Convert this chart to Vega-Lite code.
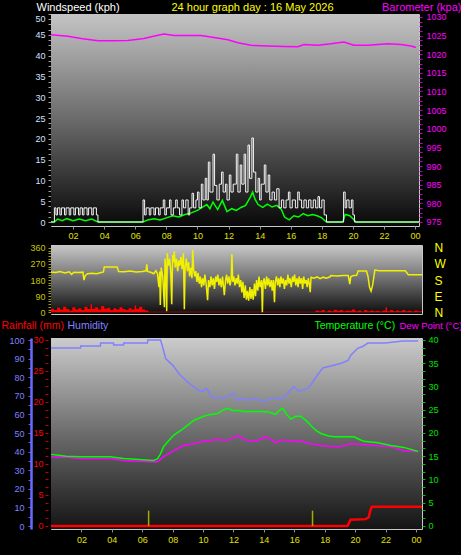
{
  "$schema": "https://vega.github.io/schema/vega-lite/v6.json",
  "background": "black",
  "padding": {"left": 0, "top": 0, "right": 0, "bottom": 10},
  "spacing": 0,
  "config": {
    "font": "Liberation Sans",
    "view": {"stroke": "#c8c8c8", "strokeWidth": 1},
    "axis": {"labelFontSize": 9, "titleFontWeight": "normal", "titleFontSize": 11, "tickSize": 3, "domain": false, "gridDash": [1, 2], "gridColor": "#e8e8e8", "gridOpacity": 0.45}
  },
  "datasets": {
    "gust": [{"h":0,"v":0},{"h":0.75,"v":0},{"h":0.8,"v":3.4},{"h":0.9,"v":1.7},{"h":1.0,"v":3.4},{"h":1.15,"v":1.7},{"h":1.25,"v":3.4},{"h":1.45,"v":1.7},{"h":1.55,"v":3.4},{"h":1.75,"v":1.7},{"h":1.85,"v":3.4},{"h":2.05,"v":1.7},{"h":2.15,"v":3.4},{"h":2.35,"v":1.7},{"h":2.45,"v":3.4},{"h":2.6,"v":1.7},{"h":2.7,"v":3.4},{"h":2.9,"v":1.7},{"h":3.0,"v":3.4},{"h":3.2,"v":1.7},{"h":3.3,"v":3.4},{"h":3.5,"v":1.7},{"h":3.6,"v":0},{"h":6.45,"v":0},{"h":6.5,"v":5.3},{"h":6.6,"v":1.7},{"h":6.7,"v":3.4},{"h":6.9,"v":1.7},{"h":7.0,"v":3.4},{"h":7.2,"v":1.7},{"h":7.3,"v":3.4},{"h":7.5,"v":1.7},{"h":7.6,"v":3.4},{"h":7.8,"v":5.3},{"h":7.9,"v":1.7},{"h":8.0,"v":3.4},{"h":8.2,"v":5.3},{"h":8.3,"v":1.7},{"h":8.45,"v":3.4},{"h":8.6,"v":5.3},{"h":8.7,"v":3.4},{"h":8.85,"v":1.7},{"h":9.0,"v":5.3},{"h":9.1,"v":3.4},{"h":9.25,"v":5.3},{"h":9.4,"v":1.7},{"h":9.5,"v":3.4},{"h":9.65,"v":6.9},{"h":9.75,"v":3.4},{"h":9.9,"v":5.3},{"h":10.0,"v":7.2},{"h":10.1,"v":3.4},{"h":10.25,"v":9.1},{"h":10.35,"v":5.3},{"h":10.5,"v":10.5},{"h":10.6,"v":5.3},{"h":10.7,"v":14.4},{"h":10.8,"v":7.2},{"h":11.0,"v":16.3},{"h":11.1,"v":8.8},{"h":11.25,"v":5.3},{"h":11.4,"v":9.1},{"h":11.55,"v":12.0},{"h":11.65,"v":7.2},{"h":11.8,"v":9.1},{"h":11.9,"v":5.3},{"h":12.05,"v":11.3},{"h":12.15,"v":7.2},{"h":12.3,"v":9.1},{"h":12.5,"v":16.3},{"h":12.6,"v":7.2},{"h":12.75,"v":13.7},{"h":12.85,"v":9.1},{"h":13.0,"v":16.3},{"h":13.1,"v":7.2},{"h":13.25,"v":18.5},{"h":13.35,"v":10.5},{"h":13.5,"v":20.2},{"h":13.6,"v":12.0},{"h":13.75,"v":7.2},{"h":13.9,"v":10.5},{"h":14.0,"v":5.3},{"h":14.1,"v":9.1},{"h":14.3,"v":13.7},{"h":14.4,"v":7.2},{"h":14.55,"v":11.3},{"h":14.65,"v":5.3},{"h":14.8,"v":7.2},{"h":14.95,"v":5.3},{"h":15.1,"v":8.0},{"h":15.25,"v":3.4},{"h":15.4,"v":5.3},{"h":15.55,"v":3.4},{"h":15.7,"v":5.3},{"h":15.85,"v":7.2},{"h":15.95,"v":3.4},{"h":16.1,"v":5.3},{"h":16.3,"v":3.4},{"h":16.45,"v":7.2},{"h":16.55,"v":5.3},{"h":16.7,"v":3.4},{"h":16.85,"v":5.3},{"h":17.0,"v":3.4},{"h":17.15,"v":5.3},{"h":17.3,"v":3.4},{"h":17.45,"v":5.3},{"h":17.6,"v":3.4},{"h":17.75,"v":6.1},{"h":17.85,"v":3.4},{"h":18.0,"v":5.3},{"h":18.15,"v":1.7},{"h":18.3,"v":0},{"h":19.35,"v":0},{"h":19.4,"v":7.2},{"h":19.5,"v":3.4},{"h":19.6,"v":5.3},{"h":19.75,"v":3.4},{"h":19.9,"v":5.3},{"h":20.0,"v":1.7},{"h":20.1,"v":0},{"h":24.3,"v":0}],
    "avg": [{"h":0,"v":0},{"h":0.8,"v":0},{"h":1.0,"v":0.7},{"h":1.3,"v":0.3},{"h":1.6,"v":0.8},{"h":2.0,"v":0.3},{"h":2.4,"v":0.7},{"h":2.8,"v":0.3},{"h":3.2,"v":0.7},{"h":3.6,"v":0},{"h":6.5,"v":0},{"h":6.8,"v":0.5},{"h":7.2,"v":0.8},{"h":7.6,"v":0.5},{"h":8.0,"v":1.0},{"h":8.4,"v":1.5},{"h":8.8,"v":1.2},{"h":9.2,"v":1.8},{"h":9.6,"v":2.2},{"h":10.0,"v":2.8},{"h":10.3,"v":3.5},{"h":10.6,"v":4.2},{"h":10.8,"v":3.2},{"h":11.0,"v":4.8},{"h":11.3,"v":3.0},{"h":11.6,"v":5.2},{"h":11.9,"v":2.5},{"h":12.2,"v":3.2},{"h":12.5,"v":2.8},{"h":12.8,"v":3.5},{"h":13.1,"v":4.0},{"h":13.4,"v":6.0},{"h":13.55,"v":7.2},{"h":13.7,"v":5.5},{"h":13.9,"v":4.2},{"h":14.2,"v":3.5},{"h":14.5,"v":4.3},{"h":14.8,"v":3.6},{"h":15.1,"v":4.0},{"h":15.4,"v":3.0},{"h":15.6,"v":1.2},{"h":15.9,"v":0.5},{"h":16.2,"v":1.5},{"h":16.5,"v":1.2},{"h":16.8,"v":2.0},{"h":17.1,"v":1.5},{"h":17.4,"v":1.8},{"h":17.7,"v":1.5},{"h":18.0,"v":1.0},{"h":18.3,"v":0},{"h":19.35,"v":0},{"h":19.5,"v":1.8},{"h":19.8,"v":1.5},{"h":20.0,"v":0.8},{"h":20.2,"v":0},{"h":24.3,"v":0}],
    "baro": [{"h":0.19,"p":1025.4},{"h":1.67,"p":1024.8},{"h":2.51,"p":1024.2},{"h":3.6,"p":1023.6},{"h":4.44,"p":1023.6},{"h":5.53,"p":1023.7},{"h":6.56,"p":1024.2},{"h":7.46,"p":1025.1},{"h":7.85,"p":1025.4},{"h":8.49,"p":1025.0},{"h":10.23,"p":1025.0},{"h":11.06,"p":1024.5},{"h":11.96,"p":1023.9},{"h":12.6,"p":1023.1},{"h":13.44,"p":1022.4},{"h":14.53,"p":1022.2},{"h":15.56,"p":1022.1},{"h":16.46,"p":1022.0},{"h":16.85,"p":1022.6},{"h":17.75,"p":1022.4},{"h":18.59,"p":1022.8},{"h":19.42,"p":1023.3},{"h":20.06,"p":1022.4},{"h":20.96,"p":1022.4},{"h":22.25,"p":1022.8},{"h":23.09,"p":1022.6},{"h":23.73,"p":1022.2},{"h":24.05,"p":1021.8}],
    "dir": [{"h":0,"d":225},{"h":0.3,"d":222},{"h":0.6,"d":228},{"h":0.9,"d":220},{"h":1.2,"d":226},{"h":1.35,"d":212},{"h":1.5,"d":224},{"h":1.8,"d":222},{"h":2.1,"d":224},{"h":2.17,"d":180},{"h":2.25,"d":205},{"h":2.4,"d":215},{"h":2.7,"d":218},{"h":3.0,"d":215},{"h":3.3,"d":222},{"h":3.45,"d":225},{"h":3.5,"d":253},{"h":4.35,"d":253},{"h":4.45,"d":228},{"h":4.8,"d":226},{"h":5.2,"d":230},{"h":5.6,"d":225},{"h":6.0,"d":228},{"h":6.25,"d":232},{"h":6.3,"d":268},{"h":6.35,"d":228},{"h":6.6,"d":222},{"h":6.75,"d":215},{"h":6.9,"d":232},{"h":7.0,"d":215},{"h":7.1,"d":140},{"h":7.15,"d":228},{"h":7.19,"d":40},{"h":7.25,"d":250},{"h":7.35,"d":200},{"h":7.46,"d":28},{"h":7.5,"d":300},{"h":7.55,"d":250},{"h":7.61,"d":6},{"h":7.65,"d":330},{"h":7.72,"d":260},{"h":7.8,"d":300},{"h":7.87,"d":240},{"h":7.94,"d":45},{"h":8.0,"d":320},{"h":8.05,"d":280},{"h":8.11,"d":340},{"h":8.17,"d":250},{"h":8.25,"d":300},{"h":8.33,"d":230},{"h":8.4,"d":290},{"h":8.47,"d":260},{"h":8.55,"d":310},{"h":8.62,"d":240},{"h":8.71,"d":330},{"h":8.77,"d":17},{"h":8.82,"d":250},{"h":8.9,"d":300},{"h":8.97,"d":230},{"h":9.05,"d":280},{"h":9.12,"d":200},{"h":9.2,"d":250},{"h":9.27,"d":190},{"h":9.32,"d":349},{"h":9.38,"d":240},{"h":9.45,"d":200},{"h":9.52,"d":230},{"h":9.6,"d":170},{"h":9.67,"d":220},{"h":9.75,"d":160},{"h":9.82,"d":200},{"h":9.9,"d":140},{"h":9.97,"d":190},{"h":10.05,"d":150},{"h":10.12,"d":210},{"h":10.2,"d":160},{"h":10.3,"d":67},{"h":10.36,"d":180},{"h":10.45,"d":140},{"h":10.52,"d":200},{"h":10.6,"d":150},{"h":10.68,"d":190},{"h":10.75,"d":130},{"h":10.83,"d":200},{"h":10.9,"d":170},{"h":10.97,"d":210},{"h":11.05,"d":150},{"h":11.12,"d":190},{"h":11.2,"d":140},{"h":11.28,"d":200},{"h":11.4,"d":95},{"h":11.48,"d":180},{"h":11.55,"d":210},{"h":11.62,"d":160},{"h":11.7,"d":200},{"h":11.78,"d":150},{"h":11.85,"d":190},{"h":11.9,"d":326},{"h":11.95,"d":170},{"h":12.02,"d":200},{"h":12.1,"d":150},{"h":12.18,"d":190},{"h":12.25,"d":160},{"h":12.32,"d":210},{"h":12.4,"d":140},{"h":12.48,"d":180},{"h":12.55,"d":110},{"h":12.62,"d":170},{"h":12.7,"d":80},{"h":12.78,"d":150},{"h":12.85,"d":70},{"h":12.92,"d":120},{"h":13.0,"d":65},{"h":13.08,"d":140},{"h":13.15,"d":75},{"h":13.22,"d":130},{"h":13.3,"d":70},{"h":13.38,"d":160},{"h":13.45,"d":90},{"h":13.52,"d":180},{"h":13.6,"d":120},{"h":13.68,"d":200},{"h":13.75,"d":140},{"h":13.85,"d":180},{"h":13.9,"d":0},{"h":13.95,"d":160},{"h":14.02,"d":190},{"h":14.1,"d":130},{"h":14.18,"d":200},{"h":14.25,"d":150},{"h":14.32,"d":190},{"h":14.4,"d":140},{"h":14.48,"d":180},{"h":14.55,"d":120},{"h":14.62,"d":180},{"h":14.7,"d":56},{"h":14.75,"d":170},{"h":14.83,"d":200},{"h":14.9,"d":150},{"h":14.98,"d":190},{"h":15.05,"d":140},{"h":15.12,"d":200},{"h":15.2,"d":160},{"h":15.28,"d":190},{"h":15.35,"d":130},{"h":15.42,"d":180},{"h":15.5,"d":150},{"h":15.58,"d":210},{"h":15.65,"d":160},{"h":15.72,"d":190},{"h":15.8,"d":140},{"h":15.88,"d":200},{"h":15.95,"d":170},{"h":16.02,"d":210},{"h":16.1,"d":150},{"h":16.18,"d":190},{"h":16.25,"d":140},{"h":16.32,"d":200},{"h":16.4,"d":160},{"h":16.48,"d":190},{"h":16.55,"d":130},{"h":16.62,"d":200},{"h":16.7,"d":160},{"h":16.78,"d":180},{"h":16.85,"d":140},{"h":16.92,"d":190},{"h":17.0,"d":150},{"h":17.05,"d":112},{"h":17.1,"d":195},{"h":17.3,"d":190},{"h":17.5,"d":198},{"h":17.7,"d":188},{"h":17.9,"d":196},{"h":18.1,"d":190},{"h":18.35,"d":198},{"h":18.4,"d":205},{"h":18.8,"d":203},{"h":19.2,"d":205},{"h":19.55,"d":205},{"h":19.65,"d":157},{"h":19.72,"d":200},{"h":19.9,"d":205},{"h":20.1,"d":206},{"h":20.2,"d":230},{"h":20.75,"d":230},{"h":20.85,"d":200},{"h":20.95,"d":140},{"h":21.05,"d":118},{"h":21.15,"d":150},{"h":21.3,"d":236},{"h":21.6,"d":232},{"h":22.5,"d":232},{"h":23.3,"d":232},{"h":23.5,"d":210},{"h":24.4,"d":210}],
    "dlow": [{"h":0,"v":20},{"h":0.2,"v":12},{"h":0.4,"v":25},{"h":0.6,"v":15},{"h":0.8,"v":30},{"h":1.0,"v":18},{"h":1.2,"v":10},{"h":1.4,"v":28},{"h":1.6,"v":15},{"h":1.8,"v":22},{"h":2.0,"v":12},{"h":2.2,"v":30},{"h":2.4,"v":18},{"h":2.6,"v":45},{"h":2.7,"v":20},{"h":2.9,"v":28},{"h":3.1,"v":15},{"h":3.3,"v":35},{"h":3.5,"v":20},{"h":3.7,"v":25},{"h":3.9,"v":12},{"h":4.1,"v":22},{"h":4.3,"v":15},{"h":4.5,"v":28},{"h":4.7,"v":18},{"h":4.9,"v":12},{"h":5.1,"v":22},{"h":5.3,"v":15},{"h":5.5,"v":38},{"h":5.6,"v":20},{"h":5.8,"v":30},{"h":6.0,"v":15},{"h":6.2,"v":10},{"h":6.4,"v":2},{"h":17.2,"v":2},{"h":17.4,"v":10},{"h":17.6,"v":5},{"h":17.8,"v":12},{"h":18.0,"v":4},{"h":18.2,"v":10},{"h":18.4,"v":6},{"h":18.6,"v":14},{"h":18.8,"v":8},{"h":19.0,"v":12},{"h":19.2,"v":5},{"h":19.4,"v":10},{"h":19.6,"v":8},{"h":19.8,"v":15},{"h":20.0,"v":6},{"h":20.2,"v":10},{"h":20.4,"v":4},{"h":20.6,"v":12},{"h":20.8,"v":6},{"h":21.0,"v":10},{"h":21.2,"v":5},{"h":21.4,"v":8},{"h":21.6,"v":4},{"h":21.8,"v":10},{"h":22.0,"v":28},{"h":22.1,"v":6},{"h":22.3,"v":12},{"h":22.5,"v":5},{"h":22.7,"v":10},{"h":22.9,"v":6},{"h":23.1,"v":12},{"h":23.3,"v":5},{"h":23.5,"v":8},{"h":23.7,"v":4},{"h":23.9,"v":10},{"h":24.1,"v":5},{"h":24.4,"v":5}],
    "rain": [{"h":0,"v":0},{"h":19.5,"v":0},{"h":19.6,"v":0.5},{"h":19.7,"v":1.0},{"h":20.7,"v":1.1},{"h":20.9,"v":1.4},{"h":21.0,"v":2.5},{"h":21.1,"v":3.1},{"h":24.4,"v":3.1}],
    "hum": [{"h":0,"v":95.7},{"h":1.94,"v":95.7},{"h":1.95,"v":96.8},{"h":3.25,"v":96.8},{"h":3.26,"v":98.4},{"h":4.11,"v":98.4},{"h":4.12,"v":97.3},{"h":4.77,"v":97.3},{"h":4.78,"v":98.4},{"h":6.35,"v":98.4},{"h":6.36,"v":100},{"h":7.21,"v":100},{"h":7.35,"v":96},{"h":7.54,"v":90},{"h":7.8,"v":88},{"h":8.06,"v":86},{"h":8.4,"v":82},{"h":8.72,"v":79.5},{"h":9.05,"v":77},{"h":9.38,"v":75},{"h":9.7,"v":73},{"h":9.97,"v":72.4},{"h":10.15,"v":74},{"h":10.3,"v":73.5},{"h":10.5,"v":70},{"h":10.73,"v":68.6},{"h":11.0,"v":69.5},{"h":11.36,"v":68.6},{"h":11.7,"v":70},{"h":12.02,"v":71.4},{"h":12.15,"v":69},{"h":12.28,"v":67.6},{"h":12.6,"v":68.5},{"h":12.9,"v":67.5},{"h":13.2,"v":68.5},{"h":13.6,"v":68},{"h":13.99,"v":67},{"h":14.45,"v":68.6},{"h":15.24,"v":68.6},{"h":15.57,"v":71.4},{"h":15.97,"v":75},{"h":16.3,"v":72.4},{"h":16.89,"v":74},{"h":17.1,"v":76},{"h":17.29,"v":78.4},{"h":17.6,"v":82},{"h":17.88,"v":85},{"h":18.6,"v":86.5},{"h":19.1,"v":87.5},{"h":19.53,"v":89},{"h":19.73,"v":92},{"h":20.19,"v":95.7},{"h":20.5,"v":96.5},{"h":20.84,"v":98.4},{"h":22.0,"v":98.4},{"h":23.14,"v":99.5},{"h":24.15,"v":99.5}],
    "temp": [{"h":0,"v":15.4},{"h":0.5,"v":15.2},{"h":1.0,"v":15.0},{"h":1.94,"v":14.9},{"h":3.0,"v":14.9},{"h":3.91,"v":14.9},{"h":4.77,"v":14.5},{"h":5.8,"v":14.3},{"h":6.75,"v":14.1},{"h":7.01,"v":14.5},{"h":7.2,"v":15.5},{"h":7.41,"v":17.1},{"h":8.06,"v":19.5},{"h":8.72,"v":21},{"h":9.38,"v":22.7},{"h":10.04,"v":23.6},{"h":10.5,"v":24.0},{"h":10.96,"v":24.2},{"h":11.3,"v":24.9},{"h":11.62,"v":25.3},{"h":12.0,"v":24.8},{"h":12.28,"v":24.9},{"h":12.7,"v":24.6},{"h":13.13,"v":24.6},{"h":13.79,"v":24.6},{"h":14.3,"v":24.5},{"h":14.78,"v":24.0},{"h":15.0,"v":24.8},{"h":15.24,"v":25.3},{"h":15.5,"v":24.0},{"h":15.77,"v":23.0},{"h":16.1,"v":23.6},{"h":16.43,"v":23.6},{"h":16.8,"v":22.6},{"h":17.09,"v":21.6},{"h":17.4,"v":20.6},{"h":17.75,"v":19.9},{"h":18.2,"v":19.4},{"h":18.6,"v":19.2},{"h":19.3,"v":19.2},{"h":19.92,"v":19.2},{"h":20.3,"v":18.6},{"h":20.58,"v":18.2},{"h":21.5,"v":17.9},{"h":22.36,"v":17.3},{"h":23.21,"v":16.9},{"h":24.15,"v":16.0}],
    "dew": [{"h":0,"v":14.9},{"h":1.0,"v":14.8},{"h":1.94,"v":14.5},{"h":3.91,"v":14.5},{"h":4.77,"v":14.1},{"h":6.55,"v":13.8},{"h":7.01,"v":13.8},{"h":7.41,"v":14.9},{"h":8.06,"v":16.2},{"h":8.72,"v":17.3},{"h":9.38,"v":17.7},{"h":10.04,"v":18.2},{"h":10.96,"v":18.6},{"h":11.5,"v":18.4},{"h":12.02,"v":19.0},{"h":12.28,"v":19.5},{"h":12.7,"v":18.6},{"h":13.13,"v":18.2},{"h":13.6,"v":18.4},{"h":14.12,"v":19.2},{"h":14.5,"v":18.5},{"h":14.78,"v":17.9},{"h":15.1,"v":18.5},{"h":15.44,"v":18.4},{"h":16.0,"v":18.3},{"h":16.43,"v":18.2},{"h":17.09,"v":17.7},{"h":17.75,"v":17.3},{"h":18.4,"v":17.1},{"h":19.07,"v":17.1},{"h":19.73,"v":17.7},{"h":20.38,"v":17.5},{"h":21.24,"v":17.3},{"h":22.36,"v":17.1},{"h":23.21,"v":16.2},{"h":24.15,"v":16.0}],
    "sun": [{"h":6.42,"event":"sunrise"},{"h":17.2,"event":"sunset"}]
  },
  "vconcat": [
    {
      "width": 368,
      "height": 212,
      "layer": [
        {"data": {"values": [{}]}, "mark": {"type": "rect", "color": {"gradient": "linear", "x1": 0, "y1": 0, "x2": 0, "y2": 1, "stops": [{"offset": 0, "color": "#c4c4c4"}, {"offset": 0.5, "color": "#6a6a6a"}, {"offset": 1, "color": "#080808"}]}}, "encoding": {}},
        {"data": {"name": "avg"}, "mark": {"type": "line", "color": "#00ff00", "strokeWidth": 1.5, "clip": true},
         "encoding": {
           "x": {"field": "h", "type": "quantitative", "scale": {"domain": [0.58, 24.25], "nice": false, "zero": false}, "axis": null},
           "y": {"field": "v", "type": "quantitative", "scale": {"domain": [-0.96, 50.0], "nice": false}, "axis": {"orient": "left", "values": [0,5,10,15,20,25,30,35,40,45,50], "labels": false, "ticks": false, "grid": true, "title": null}}
         }},
        {"data": {"name": "gust"}, "mark": {"type": "line", "interpolate": "step-after", "color": "#f4f4f4", "strokeWidth": 1, "clip": true},
         "encoding": {
           "x": {"field": "h", "type": "quantitative", "scale": {"domain": [0.58, 24.25], "nice": false, "zero": false}, "axis": {"values": [2,4,6,8,10,12,14,16,18,20,22,24], "labelExpr": "datum.value == 24 ? '00' : (datum.value < 10 ? '0' : '') + datum.value", "labelColor": "#e0e000", "tickColor": "#909090", "labelPadding": 2, "grid": true, "title": null}},
           "y": {"field": "v", "type": "quantitative", "scale": {"domain": [-0.96, 50.0], "nice": false}, "axis": {"orient": "left", "values": [0,1.25,2.5,3.75,5,6.25,7.5,8.75,10,11.25,12.5,13.75,15,16.25,17.5,18.75,20,21.25,22.5,23.75,25,26.25,27.5,28.75,30,31.25,32.5,33.75,35,36.25,37.5,38.75,40,41.25,42.5,43.75,45,46.25,47.5,48.75,50], "labelExpr": "datum.value % 5 == 0 ? format(datum.value, 'd') : ''", "labelFlush": 1, "labelColor": "#d4e2ff", "tickColor": "#a0a0a0", "labelPadding": 3, "grid": false, "title": "Windspeed (kph)", "titleColor": "#ffffff", "titleAngle": 0, "titleAlign": "left", "titleBaseline": "alphabetic", "titleX": -15, "titleY": -4}}
         }},
        {"data": {"name": "baro"}, "mark": {"type": "line", "color": "#ff00ff", "strokeWidth": 1.5, "clip": true},
         "encoding": {
           "x": {"field": "h", "type": "quantitative", "scale": {"domain": [0.58, 24.25], "nice": false, "zero": false}, "axis": {"orient": "top", "labels": false, "ticks": false, "grid": false, "title": "24 hour graph day : 16 May 2026", "titleColor": "#ffff00", "titleAlign": "center", "titleBaseline": "alphabetic", "titleX": 201, "titleY": -4}},
           "y": {"field": "p", "type": "quantitative", "scale": {"domain": [973.9, 1030.8], "nice": false, "zero": false}, "axis": {"orient": "right", "values": [975,976.25,977.5,978.75,980,981.25,982.5,983.75,985,986.25,987.5,988.75,990,991.25,992.5,993.75,995,996.25,997.5,998.75,1000,1001.25,1002.5,1003.75,1005,1006.25,1007.5,1008.75,1010,1011.25,1012.5,1013.75,1015,1016.25,1017.5,1018.75,1020,1021.25,1022.5,1023.75,1025,1026.25,1027.5,1028.75,1030], "labelExpr": "datum.value % 5 == 0 ? format(datum.value, 'd') : ''", "labelColor": "#ff00ff", "tickColor": "#c000c0", "labelPadding": 4, "grid": false, "title": "Barometer (kpa)", "titleColor": "#ff00ff", "titleAngle": 0, "titleAlign": "right", "titleBaseline": "alphabetic", "titleX": 42, "titleY": -4}}
         }}
      ],
      "resolve": {"scale": {"y": "independent"}, "axis": {"x": "independent", "y": "independent"}}
    },
    {
      "width": 371,
      "height": 69,
      "layer": [
        {"data": {"values": [{}]}, "mark": {"type": "rect", "color": {"gradient": "linear", "x1": 0, "y1": 0, "x2": 0, "y2": 1, "stops": [{"offset": 0, "color": "#c8c8c8"}, {"offset": 0.5, "color": "#6e6e6e"}, {"offset": 1, "color": "#0c0c0c"}]}}, "encoding": {}},
        {"data": {"name": "dlow"}, "mark": {"type": "area", "interpolate": "step-after", "color": "#ff0000"},
         "encoding": {
           "x": {"field": "h", "type": "quantitative", "scale": {"domain": [0, 24.4], "nice": false, "zero": false}, "axis": null},
           "y": {"field": "v", "type": "quantitative", "scale": {"domain": [-10, 376], "nice": false, "zero": false}, "axis": {"orient": "left", "values": [0,15,30,45,60,75,90,105,120,135,150,165,180,195,210,225,240,255,270,285,300,315,330,345,360], "labelExpr": "datum.value % 90 == 0 ? format(datum.value, 'd') : ''", "labelColor": "#c8c800", "tickColor": "#a0a000", "labelPadding": 3, "grid": false, "title": null}}
         }},
        {"data": {"name": "dir"}, "mark": {"type": "line", "color": "#f0f000", "strokeWidth": 1.5},
         "encoding": {
           "x": {"field": "h", "type": "quantitative", "scale": {"domain": [0, 24.4], "nice": false, "zero": false}, "axis": null},
           "y": {"field": "d", "type": "quantitative", "scale": {"domain": [-10, 376], "nice": false, "zero": false}, "axis": {"orient": "right", "values": [0,90,180,270,360], "labelExpr": "datum.value == 90 ? 'E' : datum.value == 180 ? 'S' : datum.value == 270 ? 'W' : 'N'", "labelColor": "#ffff00", "labelFontSize": 12, "ticks": false, "labelPadding": 12, "grid": true, "title": null}}
         }}
      ],
      "resolve": {"axis": {"y": "independent"}}
    },
    {
      "width": 371,
      "height": 191,
      "layer": [
        {"data": {"values": [{}]}, "mark": {"type": "rect", "color": {"gradient": "linear", "x1": 0, "y1": 0, "x2": 0, "y2": 1, "stops": [{"offset": 0, "color": "#cccccc"}, {"offset": 0.5, "color": "#6c6c6c"}, {"offset": 1, "color": "#141414"}]}}, "encoding": {}},
        {"data": {"name": "dew"}, "mark": {"type": "line", "color": "#ff00ff", "strokeWidth": 1.5},
         "encoding": {
           "x": {"field": "h", "type": "quantitative", "scale": {"domain": [0, 24.4], "nice": false, "zero": false}, "axis": null},
           "y": {"field": "v", "type": "quantitative", "scale": {"domain": [-0.65, 40.43], "nice": false, "zero": false}, "axis": {"orient": "right", "values": [0,5,10,15,20,25,30,35,40], "labels": false, "ticks": false, "grid": true, "title": "Dew Point (°C)", "titleColor": "#ff00ff", "titleFontSize": 9.5, "titleAngle": 0, "titleAlign": "left", "titleBaseline": "alphabetic", "titleX": -23, "titleY": -10}}
         }},
        {"data": {"name": "hum"}, "mark": {"type": "line", "color": "#8080ff", "strokeWidth": 1.5},
         "encoding": {
           "x": {"field": "h", "type": "quantitative", "scale": {"domain": [0, 24.4], "nice": false, "zero": false}, "axis": null},
           "y": {"field": "v", "type": "quantitative", "scale": {"domain": [-1.6, 101.1], "nice": false, "zero": false}, "axis": {"orient": "left", "offset": 20, "values": [0,5,10,15,20,25,30,35,40,45,50,55,60,65,70,75,80,85,90,95,100], "labelExpr": "datum.value % 10 == 0 ? format(datum.value, 'd') : ''", "labelColor": "#8080ff", "tickColor": "#6060ff", "labelPadding": 4, "domain": true, "domainColor": "#6a6aff", "domainWidth": 2.5, "grid": false, "title": "Humidity", "titleColor": "#8080ff", "titleFontSize": 10.5, "titleAngle": 0, "titleAlign": "left", "titleBaseline": "alphabetic", "titleX": 36, "titleY": -10}}
         }},
        {"data": {"name": "temp"}, "mark": {"type": "line", "color": "#00ff00", "strokeWidth": 1.5},
         "encoding": {
           "x": {"field": "h", "type": "quantitative", "scale": {"domain": [0, 24.4], "nice": false, "zero": false}, "axis": {"values": [2,4,6,8,10,12,14,16,18,20,22,24], "labelExpr": "datum.value == 24 ? '00' : (datum.value < 10 ? '0' : '') + datum.value", "labelColor": "#e0e000", "tickColor": "#909090", "labelPadding": 3, "grid": true, "title": null}},
           "y": {"field": "v", "type": "quantitative", "scale": {"domain": [-0.65, 40.43], "nice": false, "zero": false}, "axis": {"orient": "right", "values": [0,1.667,3.333,5,6.667,8.333,10,11.667,13.333,15,16.667,18.333,20,21.667,23.333,25,26.667,28.333,30,31.667,33.333,35,36.667,38.333,40], "labelExpr": "datum.value % 5 == 0 ? format(datum.value, 'd') : ''", "labelColor": "#00e000", "tickColor": "#00c000", "labelPadding": 3, "grid": false, "title": "Temperature (°C)", "titleColor": "#00ff00", "titleFontSize": 10.5, "titleAngle": 0, "titleAlign": "left", "titleBaseline": "alphabetic", "titleX": -108, "titleY": -10}}
         }},
        {"data": {"name": "rain"}, "mark": {"type": "line", "color": "#ff0000", "strokeWidth": 2.5},
         "encoding": {
           "x": {"field": "h", "type": "quantitative", "scale": {"domain": [0, 24.4], "nice": false, "zero": false}, "axis": null},
           "y": {"field": "v", "type": "quantitative", "scale": {"domain": [-0.49, 30.3], "nice": false, "zero": false}, "axis": {"orient": "left", "offset": 3, "values": [0,1.25,2.5,3.75,5,6.25,7.5,8.75,10,11.25,12.5,13.75,15,16.25,17.5,18.75,20,21.25,22.5,23.75,25,26.25,27.5,28.75,30], "labelExpr": "datum.value % 5 == 0 ? format(datum.value, 'd') : ''", "labelColor": "#ff0000", "tickColor": "#c00000", "labelPadding": 2, "grid": false, "title": "Rainfall (mm)", "titleColor": "#ff0000", "titleFontSize": 10.5, "titleAngle": 0, "titleAlign": "left", "titleBaseline": "alphabetic", "titleX": -47, "titleY": -10}}
         }},
        {"data": {"name": "sun"}, "mark": {"type": "rule", "color": "#a8a800", "strokeWidth": 1.5},
         "encoding": {
           "x": {"field": "h", "type": "quantitative", "scale": {"domain": [0, 24.4], "nice": false, "zero": false}, "axis": null},
           "y": {"datum": 0, "type": "quantitative", "scale": {"domain": [-0.65, 40.43], "nice": false, "zero": false}, "axis": null},
           "y2": {"datum": 3.3}
         }}
      ],
      "resolve": {"scale": {"y": "independent"}, "axis": {"x": "independent", "y": "independent"}}
    }
  ]
}
